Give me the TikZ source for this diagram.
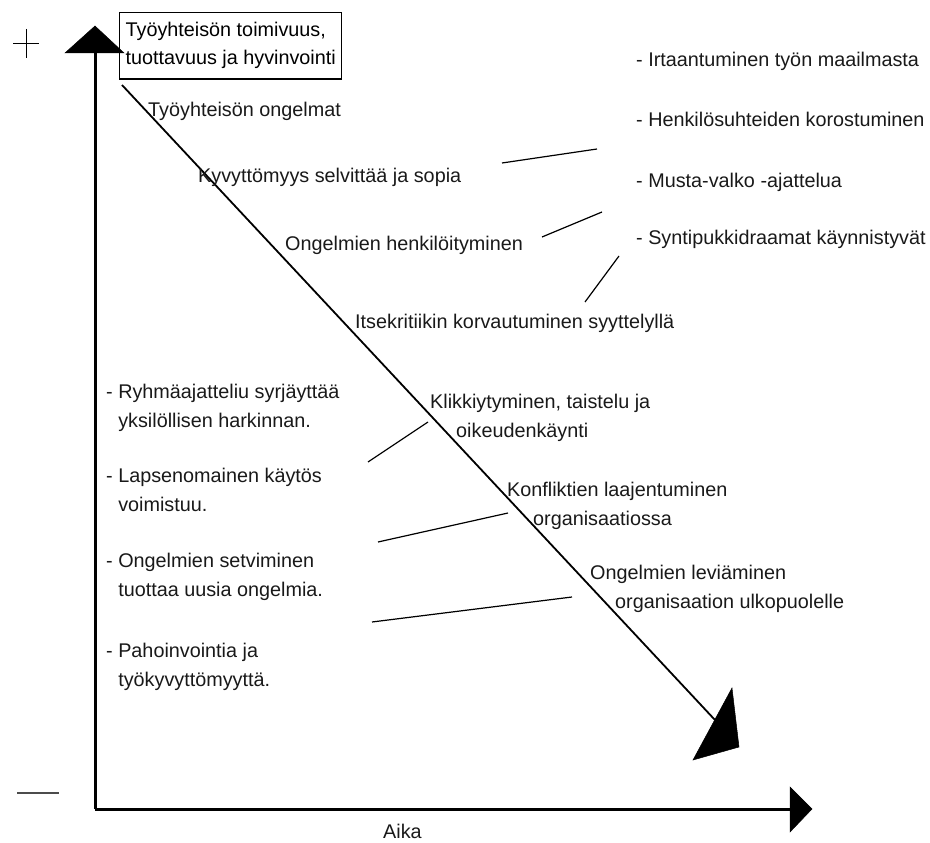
\documentclass[tikz,border=0pt]{standalone}
\usepackage{fontspec}
\setmainfont{Liberation Sans}
\usetikzlibrary{positioning,calc}
\newcommand{\lblfont}{\fontsize{19.8}{29}\selectfont}

\begin{document}
\begin{tikzpicture}[x=1pt, y=-1pt,
  lbl/.style={font=\lblfont, inner sep=0pt, anchor=base west, align=left, text=black!90},
  goalbox/.style={rectangle, draw, line width=1.2pt, font=\fontsize{19.8}{28}\selectfont,
    align=left, inner xsep=6pt, inner ysep=10pt, anchor=north west},
  axis/.style={line width=3pt},
  diag/.style={line width=1.8pt},
  conn/.style={line width=1.2pt},
  head/.style={fill=black, draw=black, line width=0.5pt, line join=miter}
]
\useasboundingbox (0,0) rectangle (930,843);

% Axes
\coordinate (origin) at (95,809);
\coordinate (ytop) at (95,53);
\coordinate (xend) at (790,809);
\draw[axis] (origin) -- (ytop);
\draw[axis] (origin) -- (xend);
\fill[head] (65,53) -- (124,53) -- (95,26) -- cycle;
\fill[head] (790,787) -- (790,832) -- (812,809) -- cycle;
\draw[line width=0.9pt] (13,43) -- (39,43) (26,29) -- (26,58);
\draw[line width=1.3pt, black!70] (17,793) -- (59,793);
\node[lbl] (aika) at (383,838) {Aika};

% Goal box and the downward path
\node[goalbox] (goal) at (119,12) {Työyhteisön toimivuus,\\tuottavuus ja hyvinvointi};
\coordinate (dstart) at (122,85);
\coordinate (dend) at (715,720);
\draw[diag] (dstart) -- (dend);
\fill[head] (693,760) -- (732,688) -- (739,747) -- cycle;

% Stages along the path (base = last line)
\node[lbl] (ongelmat) at (148,117) {Työyhteisön ongelmat};
\node[lbl] (kyvyt) at (198,182) {Kyvyttömyys selvittää ja sopia};
\node[lbl] (henk) at (285,250) {Ongelmien henkilöityminen};
\node[lbl] (itsekr) at (355,328) {Itsekritiikin korvautuminen syyttelyllä};
\node[lbl] (klikki) at (430,437) {Klikkiytyminen, taistelu ja\\\hspace*{26pt}oikeudenkäynti};
\node[lbl] (konfl) at (507,525) {Konfliktien laajentuminen\\\hspace*{26pt}organisaatiossa};
\node[lbl] (levia) at (590,608) {Ongelmien leviäminen\\\hspace*{25pt}organisaation ulkopuolelle};

% Right-hand consequences
\node[lbl] (irt) at (636,67) {- Irtaantuminen työn maailmasta};
\node[lbl] (hsuht) at (636,127) {- Henkilösuhteiden korostuminen};
\node[lbl] (musta) at (636,187) {- Musta-valko -ajattelua};
\node[lbl] (synti) at (636,244) {- Syntipukkidraamat käynnistyvät};

\coordinate (r1a) at (502,163); \coordinate (r1b) at (597,149);
\coordinate (r2a) at (542,237); \coordinate (r2b) at (602,212);
\coordinate (r3a) at (585,302); \coordinate (r3b) at (619,256);
\draw[conn] (r1a) -- (r1b);
\draw[conn] (r2a) -- (r2b);
\draw[conn] (r3a) -- (r3b);

% Left-hand consequences
\node[lbl] (ryhma) at (106,427) {- Ryhmäajatteliu syrjäyttää\\\phantom{- }yksilöllisen harkinnan.};
\node[lbl] (lapsi) at (106,511) {- Lapsenomainen käytös\\\phantom{- }voimistuu.};
\node[lbl] (setvi) at (106,596) {- Ongelmien setviminen\\\phantom{- }tuottaa uusia ongelmia.};
\node[lbl] (pahoi) at (106,686) {- Pahoinvointia ja\\\phantom{- }työkyvyttömyyttä.};

\coordinate (l1a) at (368,462); \coordinate (l1b) at (428,422);
\coordinate (l2a) at (378,542); \coordinate (l2b) at (508,513);
\coordinate (l3a) at (372,622); \coordinate (l3b) at (572,597);
\draw[conn] (l1a) -- (l1b);
\draw[conn] (l2a) -- (l2b);
\draw[conn] (l3a) -- (l3b);

\end{tikzpicture}
\end{document}
